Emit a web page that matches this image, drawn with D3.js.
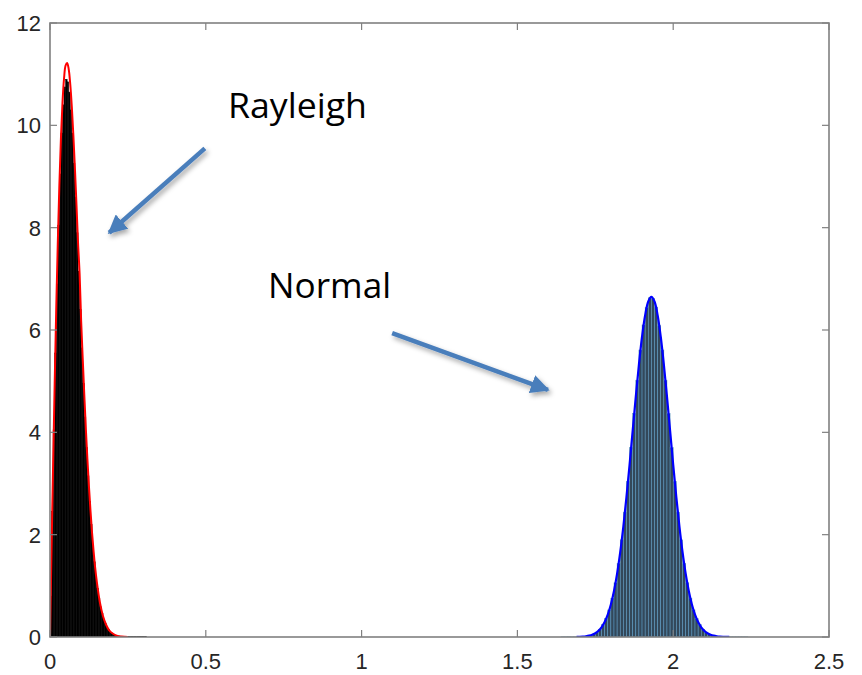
<!DOCTYPE html>
<html>
<head>
<meta charset="utf-8">
<script src="https://cdn.jsdelivr.net/npm/d3@7"></script>
<style>
  html, body { margin: 0; padding: 0; background: #fff; }
  svg { display: block; }
</style>
</head>
<body>
<svg id="chart"></svg>
<script>
// axis ticks
var xTicks = [0, 0.5, 1, 1.5, 2, 2.5];
var yTicks = [0, 2, 4, 6, 8, 10, 12];

// Rayleigh histogram: bins of 0.005 starting at 0
var rayBinStart = 0, rayBinWidth = 0.005;
var rayHist = [0.80, 2.45, 4.05, 5.55, 6.90, 8.05, 9.05, 9.85, 10.40, 10.75,
               10.90, 10.85, 10.65, 10.30, 9.85, 9.25, 8.60, 7.90, 7.15, 6.40,
               5.65, 4.95, 4.30, 3.70, 3.15, 2.65, 2.20, 1.80, 1.47, 1.19,
               0.95, 0.75, 0.59, 0.46, 0.35, 0.27, 0.20, 0.15, 0.11, 0.08,
               0.06, 0.04, 0.03, 0.02, 0.02, 0.015, 0.01, 0.01, 0.01, 0.01,
               0.01, 0.01, 0.01, 0.01, 0.01, 0.01, 0.01, 0.01, 0.01, 0.01,
               0.01, 0.01];

// Rayleigh fitted curve (red)
var rayCurveX = [0, 0.005, 0.01, 0.015, 0.02, 0.025, 0.03, 0.035, 0.04, 0.045,
                 0.05, 0.055, 0.06, 0.065, 0.07, 0.075, 0.08, 0.085, 0.09, 0.095,
                 0.10, 0.105, 0.11, 0.115, 0.12, 0.125, 0.13, 0.135, 0.14, 0.145,
                 0.15, 0.16, 0.17, 0.18, 0.19, 0.20, 0.21, 0.22, 0.23, 0.24, 0.25];
var rayCurveY = [0, 1.71, 3.37, 4.95, 6.40, 7.70, 8.82, 9.73, 10.43, 10.91,
                 11.17, 11.22, 11.10, 10.80, 10.36, 9.80, 9.15, 8.44, 7.70, 7.10,
                 6.17, 5.44, 4.74, 4.07, 3.48, 2.94, 2.46, 2.03, 1.67, 1.35,
                 1.09, 0.68, 0.41, 0.24, 0.13, 0.072, 0.036, 0.017, 0.008, 0.004, 0.002];

// Normal histogram: bins of 0.01 starting at 1.64
var normBinStart = 1.64, normBinWidth = 0.01;
var normHist = [0.002, 0.002, 0.003, 0.002, 0.003, 0.004, 0.006, 0.011, 0.019, 0.034,
                0.057, 0.094, 0.15, 0.24, 0.36, 0.53, 0.76, 1.06, 1.44, 1.90,
                2.44, 3.04, 3.70, 4.37, 5.02, 5.61, 6.10, 6.44, 6.63,
                6.62, 6.45, 6.09, 5.61, 5.02, 4.37, 3.70, 3.04, 2.44, 1.90,
                1.44, 1.06, 0.76, 0.53, 0.36, 0.24, 0.15, 0.094, 0.057, 0.034,
                0.019, 0.011, 0.006, 0.004, 0.003, 0.002, 0.002, 0.002, 0.002, 0.002, 0.002];

// Normal fitted curve (blue)
var normCurveX = [1.69, 1.70, 1.71, 1.72, 1.73, 1.74, 1.75, 1.76, 1.77,
                  1.78, 1.79, 1.80, 1.81, 1.82, 1.83, 1.84, 1.85, 1.86, 1.87,
                  1.88, 1.89, 1.90, 1.91, 1.92, 1.93, 1.94, 1.95, 1.96, 1.97,
                  1.98, 1.99, 2.00, 2.01, 2.02, 2.03, 2.04, 2.05, 2.06, 2.07,
                  2.08, 2.09, 2.10, 2.11, 2.12, 2.13, 2.14, 2.15, 2.16, 2.17, 2.18];
var normCurveY = [0.002, 0.004, 0.008, 0.015, 0.026, 0.044, 0.074, 0.120, 0.190,
                  0.292, 0.437, 0.636, 0.900, 1.239, 1.658, 2.159, 2.733, 3.366, 4.033,
                  4.698, 5.324, 5.868, 6.289, 6.557, 6.649, 6.557, 6.289, 5.868, 5.324,
                  4.698, 4.033, 3.366, 2.733, 2.159, 1.658, 1.239, 0.900, 0.636, 0.437,
                  0.292, 0.190, 0.120, 0.074, 0.044, 0.026, 0.015, 0.008, 0.004, 0.002, 0.001];

// annotations: label text + arrow (start -> tip), in data units
var labels = [
  {text: "Rayleigh", x: 0.571, y: 10.15, len: 139, ax0: 0.497, ay0: 9.55, ax1: 0.190, ay1: 7.90},
  {text: "Normal",   x: 0.700, y: 6.635, len: 123, ax0: 1.098, ay0: 5.94, ax1: 1.598, ay1: 4.83}
];

var width = 862, height = 675;
var margin = {top: 23, right: 33, bottom: 38, left: 50};

var svg = d3.select("#chart").attr("width", width).attr("height", height);

var x = d3.scaleLinear().domain([0, 2.5]).range([margin.left, width - margin.right]);
var y = d3.scaleLinear().domain([0, 12]).range([height - margin.bottom, margin.top]);

var defs = svg.append("defs");
defs.append("clipPath").attr("id", "plotClip")
  .append("rect")
    .attr("x", x(0)).attr("y", y(12))
    .attr("width", x(2.5) - x(0)).attr("height", y(0) - y(12));

var shadow = defs.append("filter").attr("id", "shadow")
    .attr("x", "-30%").attr("y", "-30%").attr("width", "160%").attr("height", "160%");
shadow.append("feDropShadow")
    .attr("dx", 2).attr("dy", 3).attr("stdDeviation", 2.5)
    .attr("flood-color", "#000").attr("flood-opacity", 0.35);

defs.append("marker").attr("id", "head")
    .attr("viewBox", "0 0 10 10").attr("refX", 9).attr("refY", 5)
    .attr("markerWidth", 4.2).attr("markerHeight", 4.2)
    .attr("markerUnits", "strokeWidth")
    .attr("orient", "auto")
  .append("path")
    .attr("d", "M0,0 L10,5 L0,10 z")
    .attr("fill", "#4a7ebb");

var plot = svg.append("g").attr("clip-path", "url(#plotClip)");

// Rayleigh bars
plot.append("g").selectAll("rect")
  .data(rayHist)
  .enter().append("rect")
    .attr("x", function(d, i) { return x(rayBinStart + i * rayBinWidth); })
    .attr("width", function(d, i) { return x(rayBinStart + (i + 1) * rayBinWidth) - x(rayBinStart + i * rayBinWidth); })
    .attr("y", function(d) { return y(d); })
    .attr("height", function(d) { return y(0) - y(d); })
    .attr("fill", "#000")
    .attr("stroke", "#000")
    .attr("stroke-width", 0.5);

// Normal bars
plot.append("g").selectAll("rect")
  .data(normHist)
  .enter().append("rect")
    .attr("x", function(d, i) { return x(normBinStart + i * normBinWidth); })
    .attr("width", function(d, i) { return x(normBinStart + (i + 1) * normBinWidth) - x(normBinStart + i * normBinWidth); })
    .attr("y", function(d) { return y(d); })
    .attr("height", function(d) { return Math.max(0.8, y(0) - y(d)); })
    .attr("fill", "#33485a")
    .attr("stroke", "#5d9fcb")
    .attr("stroke-width", 0.5);

var line = d3.line()
    .x(function(d) { return x(d[0]); })
    .y(function(d) { return y(d[1]); })
    .curve(d3.curveCatmullRom);

plot.append("path")
    .datum(d3.zip(rayCurveX, rayCurveY))
    .attr("d", line)
    .attr("fill", "none")
    .attr("stroke", "#ff0000")
    .attr("stroke-width", 2);

plot.append("path")
    .datum(d3.zip(normCurveX, normCurveY))
    .attr("d", line)
    .attr("fill", "none")
    .attr("stroke", "#0000ff")
    .attr("stroke-width", 2.2);

// axes box with inward ticks, MATLAB style
var axisColor = "#808080", tickLen = 7;
var axes = svg.append("g");

axes.append("rect")
    .attr("x", x(0)).attr("y", y(12))
    .attr("width", x(2.5) - x(0)).attr("height", y(0) - y(12))
    .attr("fill", "none").attr("stroke", axisColor).attr("stroke-width", 1.6);

xTicks.forEach(function(t) {
  axes.append("line").attr("x1", x(t)).attr("x2", x(t))
      .attr("y1", y(0)).attr("y2", y(0) - tickLen)
      .attr("stroke", axisColor).attr("stroke-width", 1.2);
  axes.append("line").attr("x1", x(t)).attr("x2", x(t))
      .attr("y1", y(12)).attr("y2", y(12) + tickLen)
      .attr("stroke", axisColor).attr("stroke-width", 1.2);
});
yTicks.forEach(function(t) {
  axes.append("line").attr("x1", x(0)).attr("x2", x(0) + tickLen)
      .attr("y1", y(t)).attr("y2", y(t))
      .attr("stroke", axisColor).attr("stroke-width", 1.2);
  axes.append("line").attr("x1", x(2.5)).attr("x2", x(2.5) - tickLen)
      .attr("y1", y(t)).attr("y2", y(t))
      .attr("stroke", axisColor).attr("stroke-width", 1.2);
});

var fmt = function(d) { return String(d); };

axes.selectAll(".xlab").data(xTicks).enter().append("text")
    .attr("class", "xlab")
    .attr("x", function(d) { return x(d); })
    .attr("y", y(0) + 32)
    .attr("text-anchor", "middle")
    .attr("font-family", "Liberation Sans, Arial, Helvetica, sans-serif")
    .attr("font-size", 22)
    .attr("fill", "#262626")
    .text(fmt);

axes.selectAll(".ylab").data(yTicks).enter().append("text")
    .attr("class", "ylab")
    .attr("x", x(0) - 9)
    .attr("y", function(d) { return y(d) + 8; })
    .attr("text-anchor", "end")
    .attr("font-family", "Liberation Sans, Arial, Helvetica, sans-serif")
    .attr("font-size", 22)
    .attr("fill", "#262626")
    .text(fmt);

// annotations
var ann = svg.append("g");
labels.forEach(function(l) {
  ann.append("line")
      .attr("x1", x(l.ax0)).attr("y1", y(l.ay0))
      .attr("x2", x(l.ax1)).attr("y2", y(l.ay1))
      .attr("stroke", "#4a7ebb")
      .attr("stroke-width", 4.5)
      .attr("marker-end", "url(#head)")
      .attr("filter", "url(#shadow)");
  ann.append("text")
      .attr("x", x(l.x)).attr("y", y(l.y))
      .attr("font-family", "Open Sans, Noto Sans, sans-serif")
      .attr("font-size", 35)
      .attr("textLength", l.len)
      .attr("lengthAdjust", "spacingAndGlyphs")
      .attr("fill", "#000")
      .text(l.text);
});
</script>
</body>
</html>
